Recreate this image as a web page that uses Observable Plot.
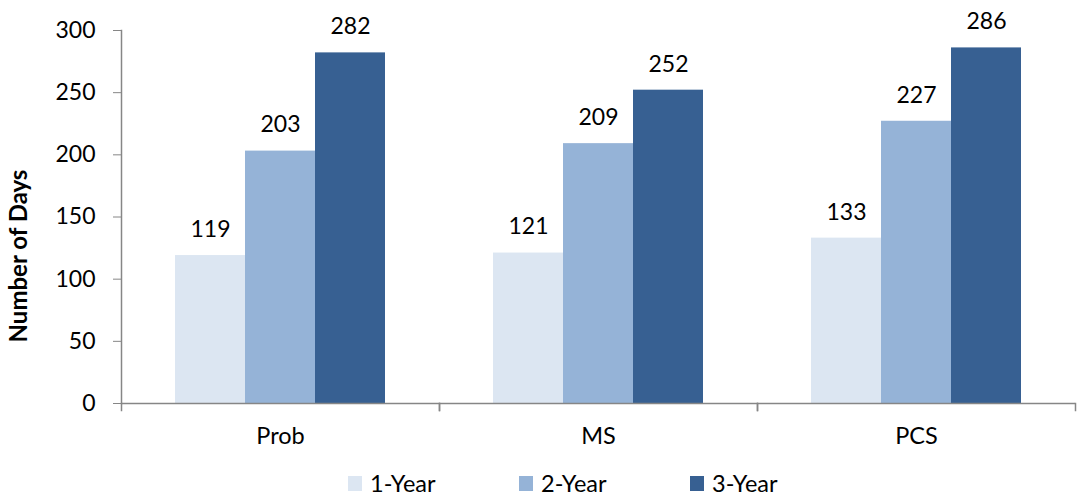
<!DOCTYPE html>
<html><head><meta charset="utf-8">
<script src="https://cdn.jsdelivr.net/npm/d3@7"></script>
<script src="https://cdn.jsdelivr.net/npm/@observablehq/plot@0.6"></script>
<style>
body{margin:0;background:#fff;font-family:Lato,sans-serif;}
#chart{position:relative;width:1078px;height:498px;background:#fff;}
#legend{position:absolute;left:348px;top:472px;display:flex;}
.item{width:171px;display:flex;align-items:center;font-size:23.5px;line-height:23px;color:#000;}
.sw{width:14px;height:15px;margin-right:8px;flex:none;}
</style></head><body><div id="chart"></div>
<script>
const categories = ["Prob", "MS", "PCS"];
const seriesNames = ["1-Year", "2-Year", "3-Year"];
const oneYear = [119, 121, 133];
const twoYear = [203, 209, 227];
const threeYear = [282, 252, 286];
const seriesColors = ["#DCE6F2", "#95B3D7", "#376092"];
const yTicks = [0, 50, 100, 150, 200, 250, 300];
const yAxisTitle = "Number of Days";

const valuesBySeries = [oneYear, twoYear, threeYear];
const data = categories.flatMap((c, i) => seriesNames.map((s, j) => ({category: c, series: s, value: valuesBySeries[j][i]})));

const W = 1078, H = 460, mT = 30, mB = 57, mL = 120, mR = 3;
const plotH = H - mT - mB;
const axisGray = "#868686";
const font = "Lato, sans-serif";
const fs = 23;

const chart = Plot.plot({
  width: W, height: H, marginTop: mT, marginBottom: mB, marginLeft: mL, marginRight: mR,
  style: {fontFamily: font, fontSize: fs + "px", color: "black", background: "white"},
  fx: {domain: categories, padding: 0},
  x: {domain: seriesNames, paddingInner: 0, paddingOuter: 0.74, axis: null},
  y: {domain: [0, 300]},
  color: {domain: seriesNames, range: seriesColors},
  marks: [
    Plot.barY(data, {fx: "category", x: "series", y: "value", fill: "series"}),
    Plot.text(data, {fx: "category", x: "series", y: "value", text: d => String(d.value), dy: -26, fontSize: fs, fill: "black"}),
    Plot.ruleY([0], {stroke: axisGray, strokeWidth: 1.5}),
    Plot.frame({anchor: "left", stroke: axisGray, strokeWidth: 1.5, facetAnchor: "left"}),
    Plot.frame({anchor: "left", stroke: axisGray, strokeWidth: 1.5, insetTop: plotH, insetBottom: -7}),
    Plot.frame({anchor: "right", stroke: axisGray, strokeWidth: 1.5, insetTop: plotH, insetBottom: -7}),
    Plot.axisY({ticks: yTicks, tickSize: 8, tickPadding: 18, stroke: axisGray, fill: "black", label: null, fontSize: fs}),
    Plot.axisFx({anchor: "bottom", tickSize: 0, tickPadding: 24, label: null, fontSize: 23.5, fill: "black"}),
    Plot.text([yAxisTitle], {frameAnchor: "left", textAnchor: "middle", rotate: -90, dx: -102, dy: 39, fontWeight: "bold", fontSize: 24, fill: "black", facetAnchor: "left"})
  ]
});
const host = document.getElementById("chart");
host.appendChild(chart);
const legend = document.createElement("div");
legend.id = "legend";
seriesNames.forEach((s, i) => {
  const item = document.createElement("div");
  item.className = "item";
  const sw = document.createElement("span");
  sw.className = "sw";
  sw.style.background = seriesColors[i];
  const lab = document.createElement("span");
  lab.textContent = s;
  item.appendChild(sw); item.appendChild(lab);
  legend.appendChild(item);
});
host.appendChild(legend);
</script></body></html>
